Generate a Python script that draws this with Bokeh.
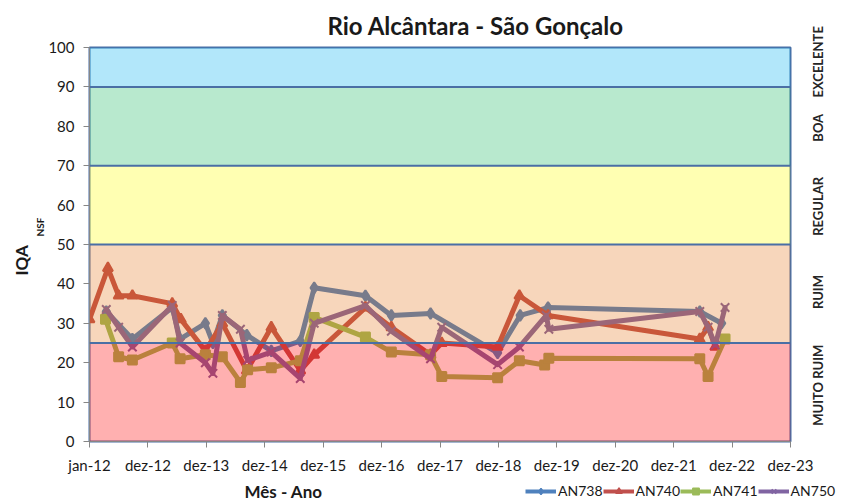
import math
from datetime import datetime, timedelta
import pandas as pd
from bokeh.plotting import figure
from bokeh.layouts import column
from bokeh.models import (Range1d, FixedTicker, Legend, LegendItem, LinearAxis,
                          ColumnDataSource, Span, Title, Label)
from bokeh.embed import file_html
from bokeh.resources import INLINE

FONT = "Lato"

# ---------------- data ----------------
an738_dates = ["2012-04-15", "2012-09-25", "2013-06-01", "2013-07-20", "2013-12-25",
               "2014-02-10", "2014-04-10", "2014-09-10", "2015-02-10", "2015-08-10",
               "2015-11-05", "2016-09-20", "2017-03-01", "2017-11-01", "2018-12-25",
               "2019-05-15", "2019-11-05", "2022-06-10", "2022-10-25"]
an738_vals = [33, 26, 34, 26, 30, 25, 32, 27, 23, 25.5, 39, 37, 32, 32.5, 22.5, 32, 34, 33, 30]

an740_dates = ["2012-01-01", "2012-04-25", "2012-07-01", "2012-09-25", "2013-06-01",
               "2013-07-25", "2013-12-25", "2014-04-10", "2014-09-10", "2015-02-10",
               "2015-08-10", "2015-11-05", "2016-09-20", "2017-03-01", "2017-11-01",
               "2018-01-10", "2018-12-25", "2019-05-10", "2019-11-05", "2022-06-10",
               "2022-08-01", "2022-09-15"]
an740_vals = [31, 44, 37, 37, 35, 31, 23, 30, 18, 29, 18, 22, 34, 29, 22, 25, 24, 37, 32, 26, 29, 24]

an741_dates = ["2012-04-10", "2012-07-01", "2012-09-25", "2013-06-01", "2013-07-20",
               "2013-12-25", "2014-04-10", "2014-08-01", "2014-09-15", "2015-02-10",
               "2015-08-10", "2015-11-05", "2016-09-20", "2017-03-01", "2017-11-01",
               "2018-01-10", "2018-12-25", "2019-05-10", "2019-10-15", "2019-11-10",
               "2022-06-10", "2022-08-01", "2022-11-15"]
an741_vals = [31, 21.5, 20.7, 25, 21, 22, 21.5, 15, 18.2, 18.7, 20.5, 31.5, 26.5, 22.7, 22,
              16.5, 16.2, 20.5, 19.4, 21.1, 21, 16.5, 26]

an750_dates = ["2012-04-15", "2012-07-01", "2012-09-25", "2013-06-01", "2013-07-20",
               "2013-12-25", "2014-02-10", "2014-04-10", "2014-08-01", "2014-09-15",
               "2015-02-10", "2015-08-10", "2015-11-05", "2016-09-20", "2017-03-01",
               "2017-11-01", "2018-01-10", "2018-12-25", "2019-05-10", "2019-10-25",
               "2019-11-10", "2022-06-10", "2022-08-01", "2022-09-15", "2022-11-15"]
an750_vals = [33.5, 29, 24, 34.5, 25, 20, 17.3, 32, 28.5, 20.6, 22.7, 16, 30, 34.5, 28, 21, 29,
              19.5, 24, 32, 28.5, 33, 29, 24.5, 34]

tick_labels = ["jan-12", "dez-12", "dez-13", "dez-14", "dez-15", "dez-16", "dez-17",
               "dez-18", "dez-19", "dez-20", "dez-21", "dez-22", "dez-23"]

band_bottoms = [0, 25, 50, 70, 90]
band_tops = [25, 50, 70, 90, 100]
band_colors = ["#FF0000", "#E46C0A", "#FFFF00", "#00B050", "#00B0F0"]
band_alphas = [0.31, 0.28, 0.30, 0.28, 0.30]
band_names = ["MUITO RUIM", "RUIM", "REGULAR", "BOA", "EXCELENTE"]
band_label_y = [4.0, 33.6, 52.2, 76.1, 87.3]   # where each (upward-reading) name starts

series_names = ["AN738", "AN740", "AN741", "AN750"]
series_dates = [an738_dates, an740_dates, an741_dates, an750_dates]
series_vals = [an738_vals, an740_vals, an741_vals, an750_vals]
series_colors = ["#4F81BD", "#C0504D", "#9BBB59", "#8064A2"]
series_markers = ["diamond", "triangle", "square", "x"]
series_sizes = [11, 10, 9, 12]

# ---------------- main figure ----------------
EPOCH = datetime(1970, 1, 1)
start = datetime(2012, 1, 1)
end = start + timedelta(days=365 * 12)
tick_ms = [int(((start + timedelta(days=365 * k)) - EPOCH).total_seconds() * 1000)
           for k in range(len(tick_labels))]

p = figure(width=854, height=476, x_axis_type="datetime",
           x_range=Range1d(start, end), y_range=Range1d(0, 100),
           output_backend="svg", toolbar_location=None,
           min_border_left=89, min_border_right=64, min_border_top=41,
           min_border_bottom=33)
p.xgrid.visible = False
p.ygrid.visible = False
p.outline_line_color = "#4A6FA5"
p.outline_line_width = 2

p.title.text = "Rio Alcântara - São Gonçalo"
p.title.align = "left"
p.title.offset = 238
p.title.text_font = FONT
p.title.text_font_style = "bold"
p.title.text_font_size = "24px"
p.title.text_color = "#1a1a1a"
p.title.standoff = 16

for nm, d, v, col, mk, sz in zip(series_names, series_dates, series_vals,
                                 series_colors, series_markers, series_sizes):
    src = ColumnDataSource(dict(x=pd.to_datetime(d), y=v))
    p.line("x", "y", source=src, line_color=col, line_width=5,
           line_join="round", line_cap="round")
    p.scatter("x", "y", source=src, marker=mk, size=sz, fill_color=col,
              line_color=col, line_width=2)

# quality bands, translucent over the series
band_src = ColumnDataSource(dict(
    left=[start] * len(band_bottoms), right=[end] * len(band_bottoms),
    bottom=band_bottoms, top=band_tops, color=band_colors, alpha=band_alphas))
p.quad(left="left", right="right", bottom="bottom", top="top", source=band_src,
       fill_color="color", fill_alpha="alpha", line_alpha=0)
for yb in band_bottoms[1:]:
    p.add_layout(Span(location=yb, dimension="width", line_color="#4A6FA5", line_width=2))

p.yaxis.ticker = FixedTicker(ticks=list(range(0, 101, 10)))
p.xaxis.ticker = FixedTicker(ticks=tick_ms)
p.xaxis.major_label_overrides = {t: lab for t, lab in zip(tick_ms, tick_labels)}
for ax in (p.xaxis[0], p.yaxis[0]):
    ax.axis_line_color = "#868686"
    ax.major_tick_line_color = "#868686"
    ax.major_tick_in = 0
    ax.major_tick_out = 6
    ax.minor_tick_line_color = None
    ax.major_label_text_font = FONT
    ax.major_label_text_font_size = "15px"
    ax.major_label_text_color = "#1a1a1a"
p.yaxis.major_label_standoff = 9
p.xaxis.major_label_standoff = 8

# y axis title: IQA with subscript NSF
p.add_layout(Title(text="NSF", align="left", offset=205, text_font=FONT,
                   text_font_style="bold", text_font_size="10px",
                   text_color="#1a1a1a", standoff=0), "left")
p.add_layout(Title(text="IQA", align="left", offset=166, text_font=FONT,
                   text_font_style="bold", text_font_size="17px",
                   text_color="#1a1a1a", standoff=0), "left")

# band names on the right
rax = LinearAxis(ticker=FixedTicker(ticks=band_label_y),
                 major_label_overrides={y: n for y, n in zip(band_label_y, band_names)},
                 major_label_orientation=math.pi / 2, axis_line_color=None,
                 major_tick_line_color=None, minor_tick_line_color=None,
                 major_label_standoff=22, major_label_text_font=FONT,
                 major_label_text_font_style="bold", major_label_text_font_size="13px",
                 major_label_text_color="#262626")
p.add_layout(rax, "right")

# ---------------- bottom strip: x-axis title + legend ----------------
q = figure(width=854, height=28, y_range=Range1d(0, 28),
           x_axis_type=None, y_axis_type=None, output_backend="svg",
           toolbar_location=None, min_border=0)
if "frame_align" in q.properties():
    # let this strip's frame span the full page width (x in page pixels)
    q.frame_align = False
    q.x_range = Range1d(0, 854)
    leg_x = 525
else:
    # frame lines up with the main frame: x runs in page pixels 89..790
    q.x_range = Range1d(89, 790)
    leg_x = 436
q.xgrid.visible = False
q.ygrid.visible = False
q.outline_line_color = None
q.add_layout(Label(x=283, y=13, text="Mês - Ano", text_font=FONT, text_font_style="bold",
                   text_font_size="17px", text_color="#1a1a1a", text_align="center",
                   text_baseline="middle"))
items = []
for nm, col, mk in zip(series_names, series_colors, series_markers):
    lr = q.line(x=[float("nan")], y=[float("nan")], line_color=col, line_width=4)
    sr = q.scatter(x=[float("nan")], y=[float("nan")], marker=mk, size=6,
                   fill_color=col, line_color=col, line_width=1.5)
    items.append(LegendItem(label=nm, renderers=[lr, sr]))
legend = Legend(items=items, orientation="horizontal", location=(leg_x, 5),
                border_line_alpha=0, background_fill_alpha=0, padding=0, margin=0,
                spacing=0, glyph_width=31, glyph_height=16, label_standoff=2,
                label_height=16, label_text_font=FONT, label_text_font_size="14px",
                label_text_color="#1a1a1a")
q.add_layout(legend)

layout = column(p, q, spacing=0)
open("out.html", "w").write(file_html(layout, INLINE))
